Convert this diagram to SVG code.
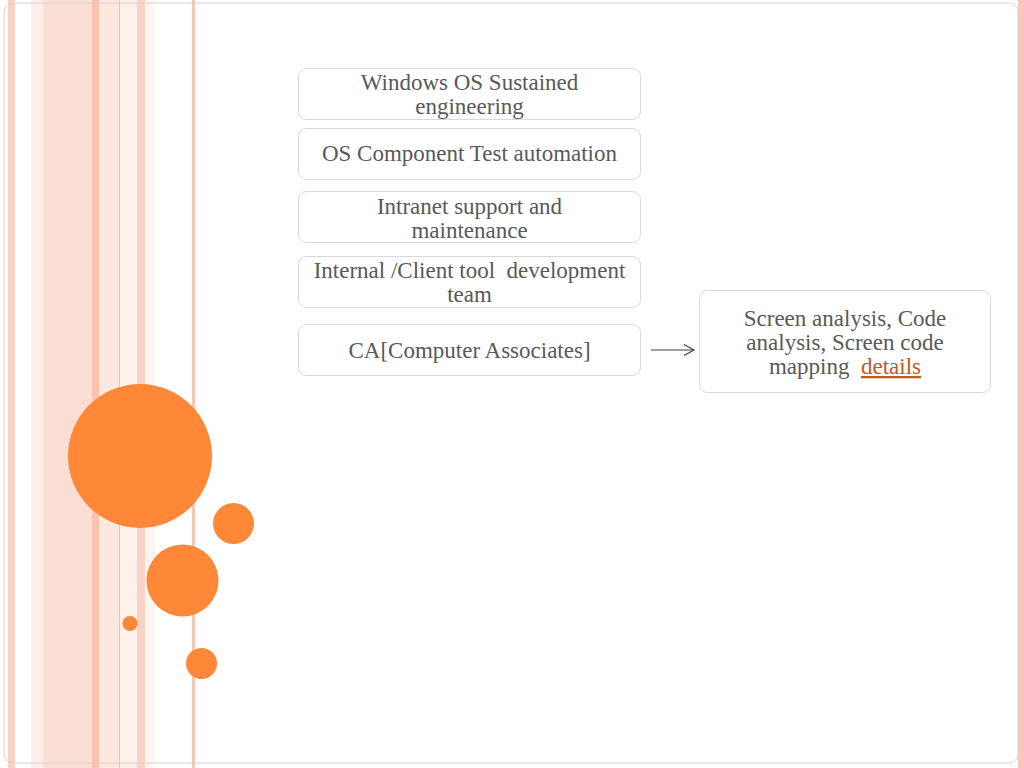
<svg xmlns="http://www.w3.org/2000/svg" width="1024" height="768" viewBox="0 0 1024 768">
<defs>
<style>
.box{fill:#fff;stroke:#D9D9D9;stroke-width:1}
.t{font-family:"Liberation Serif","Times New Roman",serif;font-size:23px;fill:#595959;text-anchor:middle}
.dot{fill:#FF8738}
</style>
<marker id="arr" markerWidth="14" markerHeight="14" refX="12" refY="7" orient="auto" markerUnits="userSpaceOnUse">
<path d="M2,1.5 L12,7 L2,12.5" fill="none" stroke="#404040" stroke-width="1.2"/>
</marker>
</defs>
<rect width="1024" height="768" fill="#fff"/>
<g id="stripes">
<rect x="8" y="0" width="7" height="768" fill="#F9D3C5"/>
<rect x="31" y="0" width="12" height="768" fill="#FDEEE8"/>
<rect x="43" y="0" width="49" height="768" fill="#FBDED3"/>
<rect x="92" y="0" width="7" height="768" fill="#FBC3AD"/>
<rect x="99" y="0" width="20" height="768" fill="#FDE8DF"/>
<rect x="119" y="0" width="1" height="768" fill="#EFC4B4"/>
<rect x="120" y="0" width="17" height="768" fill="#FEF1EC"/>
<rect x="137" y="0" width="8" height="768" fill="#FAD3C4"/>
<rect x="145" y="0" width="10" height="768" fill="#FEF4F0"/>
<rect x="192" y="0" width="3" height="768" fill="#F6C5B3"/>
<rect x="1018" y="0" width="6" height="768" fill="#F9C9B7"/>
</g>
<rect x="4" y="3" width="1014" height="760" rx="9" fill="none" stroke="#D4D4D4" stroke-width="1"/>
<g id="circles">
<circle class="dot" cx="140" cy="456" r="72"/>
<circle class="dot" cx="233.5" cy="523.5" r="20.5"/>
<circle class="dot" cx="182.5" cy="580.5" r="36"/>
<circle class="dot" cx="130" cy="623.5" r="7.5"/>
<circle class="dot" cx="201.5" cy="663.5" r="15.5"/>
</g>
<g id="n1"><rect class="box" x="298.5" y="68.5" width="342" height="51" rx="8"/>
<text class="t" x="469.5" y="90">Windows OS Sustained</text><text class="t" x="469.5" y="114">engineering</text></g>
<g id="n2"><rect class="box" x="298.5" y="128.5" width="342" height="51" rx="8"/>
<text class="t" x="469.5" y="161">OS Component Test automation</text></g>
<g id="n3"><rect class="box" x="298.5" y="191.5" width="342" height="51" rx="8"/>
<text class="t" x="469.5" y="214">Intranet support and</text><text class="t" x="469.5" y="238">maintenance</text></g>
<g id="n4"><rect class="box" x="298.5" y="256.5" width="342" height="51" rx="8"/>
<text class="t" x="469.5" y="278" xml:space="preserve">Internal /Client tool  development</text><text class="t" x="469.5" y="302">team</text></g>
<g id="n5"><rect class="box" x="298.5" y="324.5" width="342" height="51" rx="8"/>
<text class="t" x="469.5" y="358">CA[Computer Associates]</text></g>
<g id="n6"><rect class="box" x="699.5" y="290.5" width="291" height="102" rx="8"/>
<text class="t" x="845" y="326">Screen analysis, Code</text>
<text class="t" x="845" y="350">analysis, Screen code</text>
<text class="t" x="845" y="374" xml:space="preserve">mapping  <tspan fill="#C5581C" text-decoration="underline">details</tspan></text></g>
<g id="connectors">
<line x1="651" y1="350" x2="694" y2="350" stroke="#404040" stroke-width="1.2" marker-end="url(#arr)"/>
</g>
</svg>
